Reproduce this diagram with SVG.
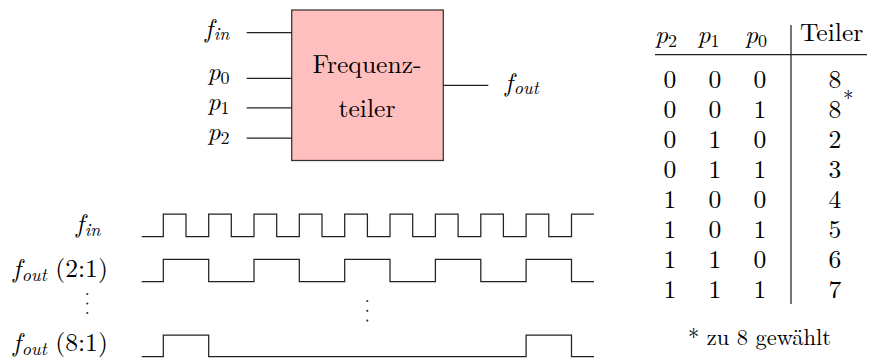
<svg xmlns="http://www.w3.org/2000/svg" width="871" height="359" viewBox="0 0 871 359">
<style>
text{font-family:'Latin Modern Roman',serif;font-size:25.6px;fill:#000}
.i{font-style:italic}
.sub{font-size:18px;font-style:italic}
.subr{font-size:18px}
.c{text-anchor:middle}
.e{text-anchor:end}
.w{fill:none;stroke:#222;stroke-width:1.25}
.ln{stroke:#222;stroke-width:1.25}
.dot{fill:#333}
</style>
<rect width="871" height="359" fill="#fff"/>
<g id="frequenzteiler">
<rect x="291.7" y="10" width="151.6" height="150.5" fill="#ffbfbf" stroke="#333" stroke-width="1.25"/>
<text class="c" x="367" y="72.7">Frequenz-</text>
<text class="c" x="367" y="117.3">teiler</text>
</g>
<g id="label-fin"><text class="e" x="229.5" y="36.5"><tspan class="i">f</tspan><tspan class="sub" dx="1" dy="3.9">in</tspan></text></g>
<g id="label-p0"><text class="e" x="229.5" y="80.3"><tspan class="i">p</tspan><tspan class="subr" dy="3.9">0</tspan></text></g>
<g id="label-p1"><text class="e" x="229.5" y="109.7"><tspan class="i">p</tspan><tspan class="subr" dy="3.9">1</tspan></text></g>
<g id="label-p2"><text class="e" x="229.5" y="139.7"><tspan class="i">p</tspan><tspan class="subr" dy="3.9">2</tspan></text></g>
<g id="label-fout"><text x="505" y="90.5"><tspan class="i">f</tspan><tspan class="sub" dx="1" dy="3.9">out</tspan></text></g>
<g id="connectors">
<line class="ln" x1="246.7" y1="32.7" x2="291.7" y2="32.7"/>
<line class="ln" x1="246.7" y1="78.3" x2="291.7" y2="78.3"/>
<line class="ln" x1="246.7" y1="107.8" x2="291.7" y2="107.8"/>
<line class="ln" x1="246.7" y1="138" x2="291.7" y2="138"/>
<line class="ln" x1="443.3" y1="85.3" x2="488.3" y2="85.3"/>
</g>
<g id="timing">
<text class="e" x="100.5" y="232"><tspan class="i">f</tspan><tspan class="sub" dx="1" dy="3.9">in</tspan></text>
<text x="13" y="277.3"><tspan class="i">f</tspan><tspan class="sub" dx="1" dy="3.9">out</tspan><tspan dy="-3.9"> (2:1)</tspan></text>
<text x="13" y="351"><tspan class="i">f</tspan><tspan class="sub" dx="1" dy="3.7">out</tspan><tspan dy="-3.7"> (8:1)</tspan></text>
<path class="w" d="M141.7 236.7H163.3V214H186V236.7H208.7V214H231.3V236.7H254V214H276.7V236.7H299.3V214H322V236.7H344.7V214H367.4V236.7H390V214H412.7V236.7H435.4V214H458.1V236.7H480.8V214H503.4V236.7H526.1V214H548.8V236.7H571.5V214H594"/>
<path class="w" d="M141.7 281.7H163.3V259.3H208.7V281.7H254V259.3H299.3V281.7H344.7V259.3H390V281.7H435.4V259.3H480.8V281.7H526.1V259.3H571.5V281.7H594"/>
<path class="w" d="M141.7 356.7H163.3V335H208.7V356.7H526.1V335H571.5V356.7H594"/>
<circle class="dot" cx="87.3" cy="294" r="1.1"/>
<circle class="dot" cx="87.3" cy="303.5" r="1.1"/>
<circle class="dot" cx="87.3" cy="313" r="1.1"/>
<circle class="dot" cx="367.3" cy="301" r="1.1"/>
<circle class="dot" cx="367.3" cy="310.8" r="1.1"/>
<circle class="dot" cx="367.3" cy="320.6" r="1.1"/>
</g>
<g id="table">
<text x="655" y="43"><tspan class="i">p</tspan><tspan class="subr" dy="3.9">2</tspan></text>
<text x="697.5" y="43"><tspan class="i">p</tspan><tspan class="subr" dy="3.9">1</tspan></text>
<text x="745" y="43"><tspan class="i">p</tspan><tspan class="subr" dy="3.9">0</tspan></text>
<text x="800" y="41">Teiler</text>
<line class="ln" x1="655" y1="54.7" x2="867" y2="54.7"/>
<line class="ln" x1="791" y1="25" x2="791" y2="304"/>
<g class="c">
<text x="670" y="87.5">0</text><text x="715" y="87.5">0</text><text x="760" y="87.5">0</text><text x="835" y="87.5">8</text>
<text x="670" y="117.5">0</text><text x="715" y="117.5">0</text><text x="760" y="117.5">1</text><text x="835" y="117.5">8</text>
<text x="670" y="147.5">0</text><text x="715" y="147.5">1</text><text x="760" y="147.5">0</text><text x="835" y="147.5">2</text>
<text x="670" y="177.5">0</text><text x="715" y="177.5">1</text><text x="760" y="177.5">1</text><text x="835" y="177.5">3</text>
<text x="670" y="207.5">1</text><text x="715" y="207.5">0</text><text x="760" y="207.5">0</text><text x="835" y="207.5">4</text>
<text x="670" y="237.5">1</text><text x="715" y="237.5">0</text><text x="760" y="237.5">1</text><text x="835" y="237.5">5</text>
<text x="670" y="267.5">1</text><text x="715" y="267.5">1</text><text x="760" y="267.5">0</text><text x="835" y="267.5">6</text>
<text x="670" y="297.5">1</text><text x="715" y="297.5">1</text><text x="760" y="297.5">1</text><text x="835" y="297.5">7</text>
</g>
<text x="843" y="106" style="font-size:21px">*</text>
<text x="688" y="345" style="font-size:22.5px">* zu 8 gewählt</text>
</g>
</svg>
